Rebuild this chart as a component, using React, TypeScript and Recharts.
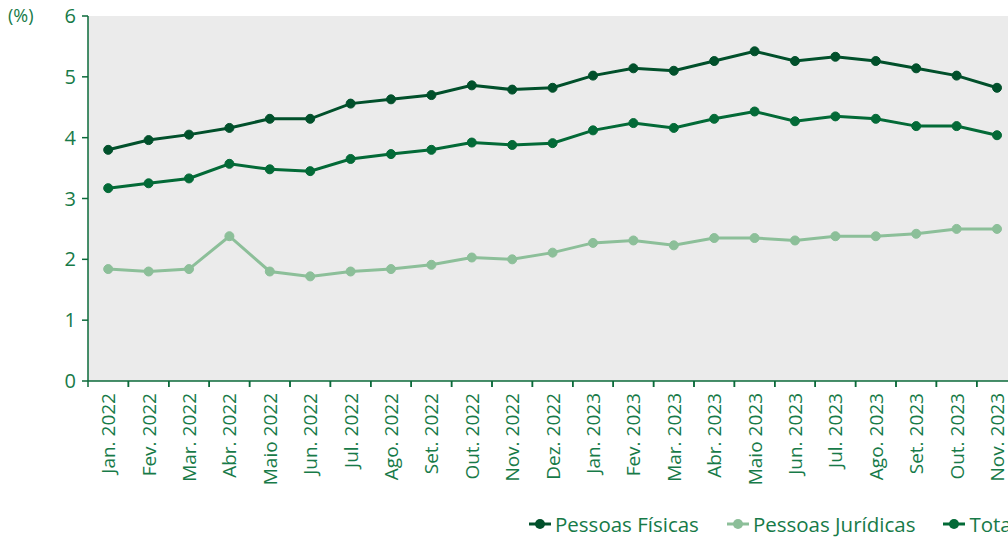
import { LineChart, Line, XAxis, YAxis, CartesianGrid } from 'recharts';

const meses = [
  'Jan. 2022', 'Fev. 2022', 'Mar. 2022', 'Abr. 2022', 'Maio 2022', 'Jun. 2022',
  'Jul. 2022', 'Ago. 2022', 'Set. 2022', 'Out. 2022', 'Nov. 2022', 'Dez. 2022',
  'Jan. 2023', 'Fev. 2023', 'Mar. 2023', 'Abr. 2023', 'Maio 2023', 'Jun. 2023',
  'Jul. 2023', 'Ago. 2023', 'Set. 2023', 'Out. 2023', 'Nov. 2023',
];

const pessoasFisicas = [
  3.80, 3.96, 4.05, 4.16, 4.31, 4.31, 4.56, 4.63, 4.70, 4.86, 4.79, 4.82,
  5.02, 5.14, 5.10, 5.26, 5.42, 5.26, 5.33, 5.26, 5.14, 5.02, 4.82,
];

const pessoasJuridicas = [
  1.84, 1.80, 1.84, 2.38, 1.80, 1.72, 1.80, 1.84, 1.91, 2.03, 2.00, 2.11,
  2.27, 2.31, 2.23, 2.35, 2.35, 2.31, 2.38, 2.38, 2.42, 2.50, 2.50,
];

const total = [
  3.17, 3.25, 3.33, 3.57, 3.48, 3.45, 3.65, 3.73, 3.80, 3.92, 3.88, 3.91,
  4.12, 4.24, 4.16, 4.31, 4.43, 4.27, 4.35, 4.31, 4.19, 4.19, 4.04,
];

const yTicks = [0, 1, 2, 3, 4, 5, 6];

const data = meses.map((mes, i) => ({
  mes,
  fisicas: pessoasFisicas[i],
  juridicas: pessoasJuridicas[i],
  total: total[i],
}));

const FONT = '"Open Sans", sans-serif';
const TEXT = '#177a48';
const AXIS = '#0b6a3a';
const C_FIS = '#01502b';
const C_JUR = '#8cbf99';
const C_TOT = '#036a37';

const HALF = 20.2;

function MesTick(props: any) {
  const { x, y, payload } = props;
  return (
    <g>
      <line x1={x - HALF} y1={y} x2={x - HALF} y2={y + 6} stroke={AXIS} strokeWidth={1.5} />
      <line x1={x + HALF} y1={y} x2={x + HALF} y2={y + 6} stroke={AXIS} strokeWidth={1.5} />
      <text
        x={x}
        y={y + 12}
        transform={`rotate(-90, ${x}, ${y + 12})`}
        textAnchor="end"
        dominantBaseline="central"
        fill={TEXT}
        fontSize={19}
        fontFamily={FONT}
      >
        {payload.value}
      </text>
    </g>
  );
}

const legendItems = [
  { name: 'Pessoas Físicas', color: C_FIS },
  { name: 'Pessoas Jurídicas', color: C_JUR },
  { name: 'Total', color: C_TOT },
];

export default function App() {
  return (
    <div style={{ position: 'fixed', left: 0, top: 0, width: 1008, height: 538, overflow: 'hidden', background: '#fff' }}>
      <div style={{ position: 'absolute', left: 8, top: 3, fontFamily: FONT, fontSize: 18, color: TEXT }}>(%)</div>
      <LineChart width={1030} height={538} data={data} margin={{ top: 16, right: 12.8, left: 0, bottom: 57 }}>
        <CartesianGrid fill="#ebebeb" horizontal={false} vertical={false} />
        <XAxis
          dataKey="mes"
          interval={0}
          padding={{ left: HALF, right: HALF }}
          height={100}
          tickSize={0}
          tickMargin={0}
          tickLine={false}
          axisLine={{ stroke: AXIS, strokeWidth: 1.5 }}
          tick={<MesTick />}
        />
        <YAxis
          domain={[0, 6]}
          ticks={yTicks}
          width={88}
          tickSize={6}
          tickMargin={6}
          axisLine={{ stroke: AXIS, strokeWidth: 1.5 }}
          tickLine={{ stroke: AXIS, strokeWidth: 1.5 }}
          tick={{ fill: TEXT, fontSize: 20, fontFamily: FONT }}
        />
        <Line dataKey="juridicas" stroke={C_JUR} strokeWidth={3} dot={{ r: 4.5, fill: C_JUR, stroke: C_JUR, strokeWidth: 1 }} isAnimationActive={false} />
        <Line dataKey="total" stroke={C_TOT} strokeWidth={3} dot={{ r: 4.5, fill: C_TOT, stroke: C_TOT, strokeWidth: 1 }} isAnimationActive={false} />
        <Line dataKey="fisicas" stroke={C_FIS} strokeWidth={3} dot={{ r: 4.5, fill: C_FIS, stroke: C_FIS, strokeWidth: 1 }} isAnimationActive={false} />
      </LineChart>
      <div style={{ position: 'absolute', left: 529, top: 510, display: 'flex', whiteSpace: 'nowrap', fontFamily: FONT, fontSize: 20.5, color: TEXT }}>
        {legendItems.map((it) => (
          <div key={it.name} style={{ display: 'flex', alignItems: 'center', marginRight: 28 }}>
            <svg width={22} height={12} style={{ marginRight: 4 }}>
              <line x1={0} y1={6} x2={22} y2={6} stroke={it.color} strokeWidth={3} />
              <circle cx={11} cy={6} r={5} fill={it.color} />
            </svg>
            <span>{it.name}</span>
          </div>
        ))}
      </div>
    </div>
  );
}
